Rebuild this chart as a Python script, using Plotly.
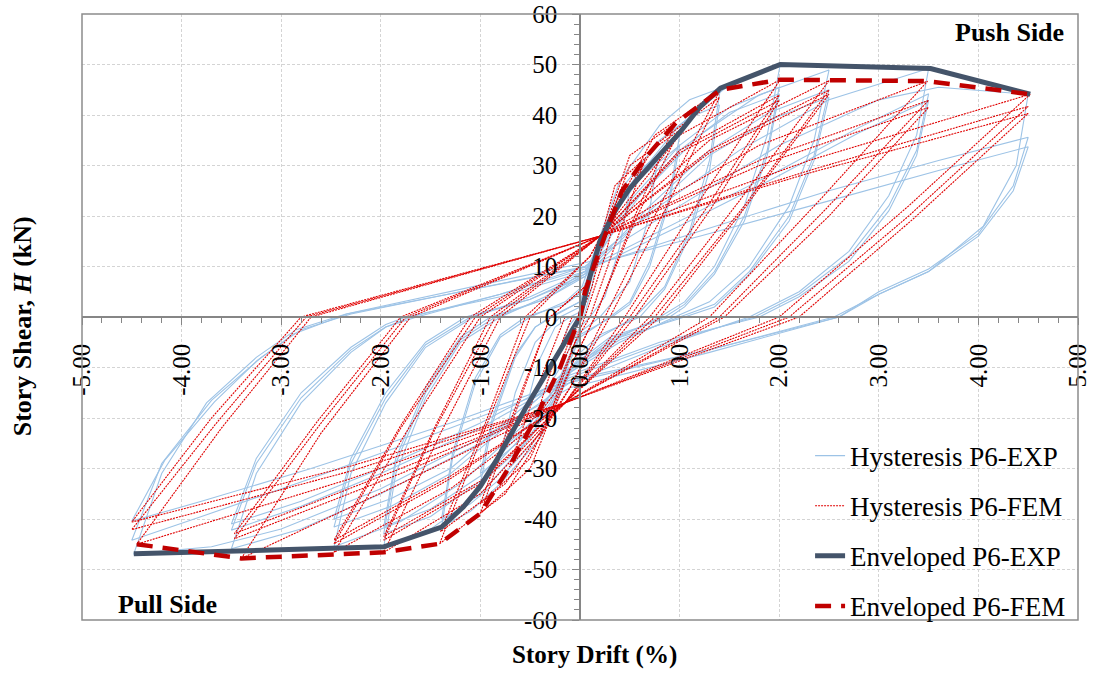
import plotly.graph_objects as go

# ---------------- data ----------------
x_ticks = [-5, -4, -3, -2, -1, 0, 1, 2, 3, 4, 5]
x_tick_text = ["-5.00", "-4.00", "-3.00", "-2.00", "-1.00", "0.00", "1.00", "2.00", "3.00", "4.00", "5.00"]
y_ticks = [-60, -50, -40, -30, -20, -10, 0, 10, 20, 30, 40, 50, 60]
y_tick_text = ["-60", "-50", "-40", "-30", "-20", "-10", "0", "10", "20", "30", "40", "50", "60"]

# Enveloped curves
env_exp_x = [-4.48, -1.97, -1.39, -1.17, -1.0, -0.84, -0.54, -0.2, 0.0, 0.1, 0.2, 0.35, 0.5, 0.65, 0.8, 1.0, 1.2, 1.41, 2.01, 3.52, 4.52]
env_exp_y = [-46.9, -45.5, -41.6, -37.6, -33.5, -28.4, -17.8, -6.6, 0.0, 8.0, 15.0, 21.0, 25.5, 28.8, 32.0, 36.5, 41.5, 45.3, 50.0, 49.2, 44.1]
env_fem_x = [-4.45, -3.4, -1.97, -1.41, -1.0, -0.71, -0.44, -0.2, 0.0, 0.05, 0.25, 0.42, 0.66, 0.96, 1.41, 2.01, 3.49, 4.52]
env_fem_y = [-45.0, -47.8, -46.6, -44.9, -38.9, -29.7, -19.8, -10.0, 0.0, 5.0, 16.1, 24.9, 31.6, 38.4, 45.0, 47.0, 46.7, 44.1]

# Hysteresis loops, experiment (drift %, shear kN), grouped by drift amplitude
exp_450 = [
    [(0.1, 11), (1.0, 22), (2.0, 34), (3.0, 43), (3.6, 45.5), (4.5, 44.1), (4.38, 30), (4.05, 18), (3.5, 9), (3.0, 4.5), (2.6, 0), (1.3, -7), (-0.1, -14),
     (-1.0, -24), (-2.0, -34), (-3.0, -42), (-3.7, -45.5), (-4.48, -46.9), (-4.2, -31), (-3.75, -17), (-3.25, -8), (-2.85, -2.5), (-2.35, 0.6), (-1.2, 5.5), (0.1, 11)],
    [(0.1, 10), (1.2, 17), (2.5, 25), (3.6, 31), (4.5, 35.6), (4.35, 26), (4.0, 16.5), (3.5, 9.5), (3.0, 5), (2.6, 0), (1.3, -6.5), (-0.1, -13),
     (-1.3, -22), (-2.7, -32), (-3.8, -39.5), (-4.5, -44.2), (-4.2, -29), (-3.7, -16.5), (-3.2, -8), (-2.8, -2.5), (-2.3, 0.6), (-1.2, 5), (0.1, 10)],
    [(0.05, 10), (1.2, 16), (2.5, 23), (3.6, 29), (4.5, 33.7), (4.35, 25), (4.0, 16), (3.5, 9), (3.0, 4.5), (2.55, 0), (1.3, -6.5), (-0.1, -12.5),
     (-1.3, -21), (-2.7, -30), (-3.8, -36.5), (-4.5, -40.4), (-4.17, -28.4), (-3.67, -16.8), (-3.24, -8.6), (-2.87, -3.3), (-2.34, 0.6), (-1.2, 5), (0.05, 10)],
]
exp_350 = [
    [(0.05, 10), (0.8, 22), (1.6, 33), (2.5, 43), (3.5, 49.2), (3.38, 36), (3.1, 24), (2.7, 13), (2.2, 5), (1.7, 0), (0.8, -6), (-0.1, -13),
     (-1.0, -25), (-2.0, -35), (-2.8, -42), (-3.5, -45.9), (-3.25, -31), (-2.8, -17), (-2.3, -7), (-1.95, -2), (-1.64, 0), (-0.8, 4.5), (0.05, 10)],
    [(0.05, 9.5), (1.0, 19), (2.0, 29), (2.8, 37.5), (3.5, 44.2), (3.38, 33), (3.1, 22), (2.7, 12), (2.2, 4.5), (1.75, 0), (0.8, -5.5), (-0.1, -12),
     (-1.0, -22), (-2.0, -31), (-2.8, -37.5), (-3.5, -42.2), (-3.25, -29), (-2.8, -16), (-2.3, -6.5), (-1.95, -2), (-1.7, 0), (-0.8, 4.5), (0.05, 9.5)],
    [(0.05, 9), (1.0, 18), (2.0, 28), (2.8, 36.5), (3.5, 42.9), (3.38, 32), (3.1, 21), (2.7, 11), (2.2, 4), (1.8, 0), (0.8, -5), (-0.1, -11.5),
     (-1.0, -21), (-2.0, -30), (-2.8, -36.5), (-3.5, -41.0), (-3.25, -28), (-2.8, -15), (-2.3, -6), (-1.95, -1.5), (-1.75, 0), (-0.8, 4), (0.05, 9)],
]
exp_250 = [
    [(0.05, 9), (0.6, 24), (1.2, 36), (1.8, 44), (2.5, 48.9), (2.35, 35), (2.1, 22), (1.7, 10), (1.3, 3), (0.95, 0), (0.4, -5), (-0.1, -11),
     (-0.6, -22), (-1.2, -33), (-1.8, -40.5), (-2.47, -45.5), (-2.3, -31), (-1.95, -17), (-1.55, -6), (-1.07, 0), (-0.5, 4), (0.05, 9)],
    [(0.05, 8.5), (0.7, 22), (1.3, 33), (1.9, 40.5), (2.5, 45.0), (2.35, 32), (2.1, 20), (1.7, 9), (1.35, 2.5), (1.0, 0), (0.4, -4.5), (-0.1, -10.5),
     (-0.7, -21), (-1.3, -31), (-1.9, -37.5), (-2.47, -41.6), (-2.3, -29), (-1.95, -16), (-1.55, -5.5), (-1.1, 0), (-0.5, 3.5), (0.05, 8.5)],
    [(0.05, 8), (0.7, 21), (1.3, 32), (1.9, 39), (2.5, 43.5), (2.35, 31), (2.1, 19), (1.7, 8.5), (1.35, 2), (1.05, 0), (0.4, -4), (-0.1, -10),
     (-0.7, -20), (-1.3, -30), (-1.9, -36), (-2.47, -40.0), (-2.3, -28), (-1.95, -15), (-1.55, -5), (-1.15, 0), (-0.5, 3.5), (0.05, 8)],
]
exp_200 = [
    [(0.05, 9), (0.5, 26), (1.0, 38), (1.5, 46), (2.01, 50.0), (1.88, 36), (1.65, 22), (1.35, 10), (1.05, 3), (0.8, 0), (0.3, -5), (-0.1, -11),
     (-0.5, -24), (-1.0, -35), (-1.5, -42), (-1.97, -45.5), (-1.85, -31), (-1.55, -16), (-1.2, -5), (-0.8, 0), (-0.35, 4), (0.05, 9)],
    [(0.05, 8.5), (0.5, 23), (1.0, 34), (1.5, 41.5), (2.0, 45.5), (1.88, 33), (1.65, 20), (1.35, 9), (1.05, 2.5), (0.85, 0), (0.3, -4.5), (-0.1, -10.5),
     (-0.5, -22), (-1.0, -32.5), (-1.5, -39.5), (-1.97, -42.9), (-1.85, -29), (-1.55, -15), (-1.2, -4.5), (-0.85, 0), (-0.35, 3.5), (0.05, 8.5)],
    [(0.05, 8), (0.5, 22), (1.0, 33), (1.5, 40.5), (2.0, 44.2), (1.88, 32), (1.65, 19), (1.35, 8.5), (1.05, 2), (0.9, 0), (0.3, -4), (-0.1, -10),
     (-0.5, -21), (-1.0, -31.5), (-1.5, -38), (-1.97, -41.5), (-1.85, -28), (-1.55, -14), (-1.2, -4), (-0.9, 0), (-0.35, 3.5), (0.05, 8)],
]
exp_140 = [
    [(0.02, 6), (0.4, 27), (0.8, 38), (1.1, 43), (1.41, 45.3), (1.3, 31), (1.1, 17), (0.85, 6), (0.55, 0), (0.2, -4), (-0.05, -9),
     (-0.4, -24), (-0.8, -33), (-1.1, -38.5), (-1.39, -41.6), (-1.28, -28), (-1.05, -13), (-0.8, -4), (-0.5, 0), (-0.15, 3), (0.02, 6)],
    [(0.02, 5), (0.4, 25), (0.8, 35), (1.1, 39.5), (1.4, 42.0), (1.3, 29), (1.1, 16), (0.85, 5.5), (0.6, 0), (0.2, -3.5), (-0.05, -8),
     (-0.4, -23), (-0.8, -32), (-1.1, -37), (-1.39, -40.0), (-1.28, -27), (-1.05, -12), (-0.8, -3.5), (-0.55, 0), (-0.15, 2.5), (0.02, 5)],
]
exp_100 = [
    [(0.0, 3), (0.3, 20), (0.6, 29), (1.0, 36), (0.9, 24), (0.7, 11), (0.5, 3), (0.3, 0), (0.0, -4),
     (-0.3, -18), (-0.6, -26), (-1.0, -33), (-0.88, -21), (-0.65, -8), (-0.45, -2), (-0.28, 0), (0.0, 3)],
    [(0.0, 3), (0.3, 19), (0.6, 27.5), (1.0, 34), (0.9, 23), (0.7, 10), (0.5, 2.5), (0.32, 0), (0.0, -3.5),
     (-0.3, -17), (-0.6, -24.5), (-1.0, -31), (-0.88, -20), (-0.65, -7.5), (-0.45, -2), (-0.3, 0), (0.0, 3)],
]
exp_075 = [
    [(0.0, 2), (0.25, 17), (0.5, 26), (0.78, 31), (0.68, 19), (0.5, 7), (0.2, 0), (0.0, -3),
     (-0.25, -14), (-0.5, -21), (-0.78, -26), (-0.65, -15), (-0.45, -5), (-0.2, 0), (0.0, 2)],
]
exp_050 = [
    [(0.0, 1), (0.2, 13), (0.35, 20), (0.5, 25.5), (0.4, 14), (0.25, 4), (0.1, 0), (0.0, -2),
     (-0.2, -10), (-0.35, -15), (-0.54, -18), (-0.42, -9), (-0.25, -2), (-0.1, 0), (0.0, 1)],
]
exp_025 = [
    [(0.0, 0), (0.1, 8), (0.2, 15), (0.12, 6), (0.04, 0), (-0.1, -4), (-0.2, -6.6), (-0.12, -2), (-0.04, 0), (0.0, 0)],
]

# Hysteresis loops, finite element model
fem_450 = [
    [(0.2, 16), (2.3, 31), (4.52, 44.1), (3.3, 22), (2.0, 0), (-0.15, -17), (-2.3, -32), (-4.45, -45.0), (-3.6, -22), (-2.7, 0), (0.2, 16)],
    [(0.2, 16), (2.3, 29), (4.5, 41.7), (3.3, 20), (2.1, 0), (-0.15, -17), (-2.3, -30.5), (-4.5, -42.1), (-3.65, -21), (-2.75, 0), (0.2, 16)],
    [(0.2, 16), (2.3, 28.5), (4.5, 40.3), (3.35, 19.5), (2.2, 0), (-0.15, -17), (-2.3, -29.5), (-4.5, -40.6), (-3.7, -20), (-2.8, 0), (0.2, 16)],
]
fem_350 = [
    [(0.2, 16), (1.8, 34), (3.49, 46.7), (2.4, 23), (1.3, 0), (-0.15, -17), (-1.8, -33), (-3.4, -47.8), (-2.6, -23), (-1.7, 0), (0.2, 16)],
    [(0.2, 16), (1.8, 31), (3.5, 42.9), (2.45, 21), (1.4, 0), (-0.15, -17), (-1.8, -31), (-3.47, -43.9), (-2.6, -21), (-1.75, 0), (0.2, 16)],
    [(0.2, 16), (1.8, 30), (3.5, 41.5), (2.5, 20), (1.45, 0), (-0.15, -17), (-1.8, -30), (-3.47, -42.9), (-2.65, -21), (-1.8, 0), (0.2, 16)],
]
fem_250 = [
    [(0.2, 16), (1.3, 35), (2.5, 46.8), (1.6, 23), (0.7, 0), (-0.15, -17), (-1.3, -34), (-2.47, -46.6), (-1.75, -23), (-1.0, 0), (0.2, 16)],
    [(0.2, 16), (1.3, 33), (2.5, 44.9), (1.65, 22), (0.75, 0), (-0.15, -17), (-1.3, -32), (-2.47, -44.9), (-1.8, -22), (-1.05, 0), (0.2, 16)],
    [(0.2, 16), (1.3, 32.5), (2.5, 44.1), (1.65, 21.5), (0.8, 0), (-0.15, -17), (-1.3, -31.5), (-2.47, -44.2), (-1.8, -21.5), (-1.1, 0), (0.2, 16)],
]
fem_200 = [
    [(0.2, 16), (1.0, 36), (2.01, 47.0), (1.2, 23), (0.45, 0), (-0.15, -17), (-1.0, -35), (-1.97, -46.6), (-1.4, -23), (-0.8, 0), (0.2, 16)],
    [(0.2, 16), (1.0, 33), (2.0, 43.9), (1.25, 21), (0.5, 0), (-0.15, -17), (-1.0, -33), (-1.97, -44.2), (-1.45, -22), (-0.85, 0), (0.2, 16)],
    [(0.2, 16), (1.0, 32.5), (2.0, 42.9), (1.3, 21), (0.55, 0), (-0.15, -17), (-1.0, -32.5), (-1.97, -43.5), (-1.45, -21.5), (-0.9, 0), (0.2, 16)],
]
fem_140 = [
    [(0.1, 12), (0.75, 36), (1.41, 45.0), (0.8, 22), (0.25, 0), (-0.1, -14), (-0.75, -35), (-1.41, -44.9), (-0.95, -22), (-0.5, 0), (0.1, 12)],
    [(0.1, 12), (0.75, 34), (1.4, 43.5), (0.85, 21), (0.3, 0), (-0.1, -14), (-0.75, -33), (-1.4, -42.5), (-0.95, -21), (-0.55, 0), (0.1, 12)],
]
fem_100 = [
    [(0.05, 6), (0.5, 32), (0.96, 38.4), (0.55, 20), (0.15, 0), (-0.05, -8), (-0.5, -30), (-1.0, -38.9), (-0.65, -19), (-0.3, 0), (0.05, 6)],
    [(0.05, 6), (0.5, 30), (1.0, 37), (0.55, 19), (0.15, 0), (-0.05, -8), (-0.5, -28), (-1.0, -37), (-0.65, -18), (-0.3, 0), (0.05, 6)],
]
fem_075 = [
    [(0.0, 0), (0.35, 26), (0.66, 31.6), (0.4, 17), (0.1, 0), (-0.05, -5), (-0.35, -22), (-0.71, -29.7), (-0.45, -15), (-0.15, 0), (0.0, 0)],
]
fem_050 = [
    [(0.0, 0), (0.25, 18), (0.42, 24.9), (0.25, 12), (0.05, 0), (-0.25, -15), (-0.44, -19.8), (-0.28, -10), (-0.08, 0), (0.0, 0)],
]
fem_025 = [
    [(0.0, 0), (0.12, 10), (0.25, 16.1), (0.12, 6), (0.0, 0), (-0.1, -6), (-0.2, -10), (-0.1, -4), (0.0, 0)],
]

exp_groups = [exp_025, exp_050, exp_075, exp_100, exp_140, exp_200, exp_250, exp_350, exp_450]
fem_groups = [fem_025, fem_050, fem_075, fem_100, fem_140, fem_200, fem_250, fem_350, fem_450]


def join_loops(groups):
    xs, ys = [], []
    for g in groups:
        for loop in g:
            for px, py in loop:
                xs.append(px)
                ys.append(py)
            xs.append(None)
            ys.append(None)
    return xs, ys


hx_exp, hy_exp = join_loops(exp_groups)
hx_fem, hy_fem = join_loops(fem_groups)

SERIF = "Liberation Serif, Times New Roman, serif"
AXIS_GRAY = "#868686"

fig = go.Figure()
fig.add_trace(go.Scatter(x=hx_exp, y=hy_exp, mode="lines", name="Hysteresis P6-EXP",
                         legendgroup="a", line=dict(color="#9DC3E6", width=1.1)))
fig.add_trace(go.Scatter(x=hx_fem, y=hy_fem, mode="lines", name="Hysteresis P6-FEM",
                         legendgroup="b", line=dict(color="#E00000", width=1.1, dash="2px,1px")))
fig.add_trace(go.Scatter(x=env_exp_x, y=env_exp_y, mode="lines", name="Enveloped P6-EXP",
                         legendgroup="c", line=dict(color="#44546A", width=5)))
fig.add_trace(go.Scatter(x=env_fem_x, y=env_fem_y, mode="lines", name="Enveloped P6-FEM",
                         legendgroup="d", line=dict(color="#C00000", width=4.5, dash="16px,10px")))

fig.update_layout(
    width=1095, height=681,
    margin=dict(l=82, r=17, t=14, b=61, autoexpand=False),
    paper_bgcolor="white", plot_bgcolor="white",
    font=dict(family=SERIF, size=25, color="black"),
    showlegend=True,
    legend=dict(x=0.731, y=0.311, xanchor="left", yanchor="top",
                bgcolor="rgba(0,0,0,0)", tracegroupgap=12,
                font=dict(family=SERIF, size=27, color="black")),
    xaxis=dict(range=[-5, 5], anchor="free", position=0.5, automargin=False,
               tickmode="array", tickvals=x_ticks, ticktext=x_tick_text, tickangle=-90,
               ticks="outside", ticklen=7, tickcolor=AXIS_GRAY, tickwidth=1,
               ticklabelstandoff=9,
               showline=True, linecolor=AXIS_GRAY, linewidth=1.5,
               showgrid=True, gridcolor="#D4D4D4", griddash="3px,2px", gridwidth=1,
               zeroline=False,
               minor=dict(tickmode="linear", tick0=0, dtick=0.2, ticks="outside", ticklen=5,
                          tickcolor=AXIS_GRAY, showgrid=False),
               tickfont=dict(family=SERIF, size=25, color="black")),
    yaxis=dict(range=[-60, 60], anchor="free", position=0.5, automargin=False,
               tickmode="array", tickvals=y_ticks, ticktext=y_tick_text,
               ticks="outside", ticklen=7, tickcolor=AXIS_GRAY, tickwidth=1,
               ticklabelstandoff=10,
               showline=True, linecolor=AXIS_GRAY, linewidth=1.5,
               showgrid=True, gridcolor="#D4D4D4", griddash="3px,2px", gridwidth=1,
               zeroline=False,
               minor=dict(tickmode="linear", tick0=0, dtick=2, ticks="outside", ticklen=5,
                          tickcolor=AXIS_GRAY, showgrid=False),
               tickfont=dict(family=SERIF, size=25, color="black")),
    shapes=[dict(type="rect", xref="paper", yref="paper", x0=0, x1=1, y0=0, y1=1,
                 line=dict(color="#8C8C8C", width=1.5), layer="above")],
    annotations=[
        dict(text="<b>Push Side</b>", xref="paper", yref="paper", x=0.988, y=0.969,
             xanchor="right", yanchor="middle", showarrow=False,
             font=dict(family=SERIF, size=26, color="black")),
        dict(text="<b>Pull Side</b>", xref="paper", yref="paper", x=0.034, y=0.026,
             xanchor="left", yanchor="middle", showarrow=False,
             font=dict(family=SERIF, size=26, color="black")),
        dict(text="<b>Story Drift (%)</b>", xref="paper", yref="paper", x=0.515, y=-0.058,
             xanchor="center", yanchor="middle", showarrow=False,
             font=dict(family=SERIF, size=25, color="black")),
        dict(text="<b>Story Shear, <i>H</i> (kN)</b>", xref="paper", yref="paper", x=-0.06, y=0.485,
             xanchor="center", yanchor="middle", textangle=-90, showarrow=False,
             font=dict(family=SERIF, size=26, color="black")),
    ],
)

fig.write_html("out.html", config={"displayModeBar": False},
               post_script="document.body.style.margin='0px';")
